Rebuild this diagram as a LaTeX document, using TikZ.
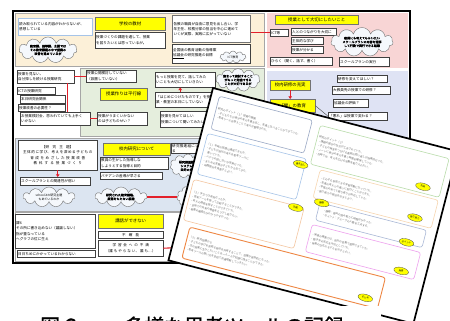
\documentclass[tikz,border=0pt]{standalone}
\usepackage{fontspec}
\newfontfamily\jp{Noto Sans CJK JP}
\newfontfamily\jpb{Noto Sans CJK JP}[FakeBold=1.5]
\XeTeXlinebreaklocale "ja"
\XeTeXlinebreakskip=0pt plus 1pt
\usetikzlibrary{shapes.symbols,shapes.geometric,arrows.meta}
\definecolor{beige}{HTML}{FCF0D8}
\definecolor{pinkbg}{HTML}{F8D5D5}
\definecolor{greenbg}{HTML}{E5EEDD}
\definecolor{bluebg}{HTML}{DCE5F1}
\definecolor{lavbg}{HTML}{DFE3F4}
\definecolor{ylw}{HTML}{FFFF00}
\definecolor{redl}{HTML}{E3202B}
\definecolor{cloudfill}{HTML}{F5F8FC}
\definecolor{bA}{HTML}{9AA8C4}
\definecolor{bB}{HTML}{A6C4E8}
\definecolor{bC}{HTML}{F4C6A0}
\definecolor{bD}{HTML}{EE8744}
\definecolor{bE}{HTML}{B9DCAA}
\definecolor{bF}{HTML}{F7D6B0}
\definecolor{bG}{HTML}{A9B8D6}
\definecolor{bH}{HTML}{EEA0EE}
\tikzset{
  wb/.style={draw=black!75, line width=0.45pt, fill=white, inner sep=1pt,
    font=\jp\fontsize{3.6}{5.2}\selectfont, align=left, anchor=north west},
  yb/.style={draw=black!55, line width=0.4pt, fill=ylw, inner sep=1pt,
    font=\jp\fontsize{4.4}{5.2}\selectfont, align=center, anchor=north west},
  cl/.style={cloud, cloud puffs=11, cloud ignores aspect, draw=black!55, line width=0.4pt, fill=cloudfill,
    inner sep=0pt, font=\jpb\fontsize{3.0}{3.8}\selectfont, align=center},
  redc/.style={draw=redl, line width=1.1pt},
  redarr/.style={draw=redl, line width=1.1pt, -{Triangle[length=2.6pt,width=3.4pt]}},
  fsbox/.style={rounded corners=2.5pt, line width=0.6pt, fill=white, inner sep=1.6pt,
    font=\jp\fontsize{2.6}{4.3}\selectfont, text=black!60, align=left, anchor=north west},
  ell/.style={ellipse, draw=black!70, line width=0.3pt, fill=ylw, inner sep=0.3pt,
    minimum width=15pt, minimum height=7pt, font=\jp\fontsize{2.4}{3}\selectfont},
  capt/.style={font=\jpb\fontsize{20}{20}\selectfont, inner sep=0pt, anchor=base west}
}
\begin{document}
\begin{tikzpicture}[x=1pt,y=-1pt]
\useasboundingbox (0,0) rectangle (450,321);
\fill[white] (0,0) rectangle (450,321);
% ---------- back sheet ----------
\draw[line width=1.2pt, fill=white] (13,11) rectangle (410,263);
\fill[beige] (15,13) rectangle (264,66);
\fill[pinkbg] (267,13) rectangle (408,68);
\fill[greenbg] (80,68) rectangle (264,136);
\fill[lavbg] (267,71) rectangle (408,150);
\fill[bluebg] (15,138) rectangle (232,211);
\draw[black!35, line width=0.4pt] (15,13) rectangle (264,66);
\draw[black!35, line width=0.4pt] (80,68) rectangle (264,136);
\draw[black!35, line width=0.4pt] (15,138) rectangle (232,211);
\draw[black!35, line width=0.4pt] (15,212) rectangle (232,261);

% beige region
\node[wb, draw=bB, minimum width=74pt, minimum height=17pt, text width=72pt] (b1) at (18,18) {読み取られている内容がわからないが、\\感想している};
\node[yb, minimum width=70pt, minimum height=13pt] (y1) at (95,17) {学校の教材};
\node[wb, minimum width=70pt, minimum height=16pt, text width=68pt] (b2) at (95,32) {授業づくりの課題を通して、授業\\を図りたいとは思っているが。};
\node[cl, minimum width=58pt, minimum height=26pt] (c1) at (48,50) {教育課、指導課、主要では\\その教育課題の中で授業の\\改善を進めているが};
\node[wb, draw=black!55, line width=1pt, minimum width=78pt, minimum height=27pt, text width=76pt] (b3) at (172,15) {各教の職員が自由に意見を出し合い、学\\年主任、校務分掌の担当を中心に進めて\\いくが実際、実践に広がっていない};
\node[wb, minimum width=78pt, minimum height=19pt, text width=76pt] (b4) at (172,44) {全国版の教育活動の指導案\\\underline{協議会}の研究推進の目標};
\node[cl, font=\jp\fontsize{3.0}{4}\selectfont, minimum width=26pt, minimum height=12pt] (c2) at (233,57) {ICT教育};

% pink region
\node[yb, minimum width=83pt, minimum height=9pt] (yP) at (275,15) {授業として大切にしたいこと};
\node[wb, minimum width=18pt, minimum height=7pt, text width=16pt] (p1) at (270,29) {ICT等};
\node[wb, minimum width=45pt, minimum height=7pt, text width=43pt] (p2) at (291,28) {人とのつながりを大切に};
\node[wb, minimum width=32pt, minimum height=7pt, text width=30pt] (p3) at (291,37) {主体的な学び};
\node[wb, minimum width=32pt, minimum height=7pt, text width=30pt] (p4) at (291,46) {授業が分かる};
\node[wb, minimum width=62pt, minimum height=8pt, text width=60pt] (p5) at (270,57) {ひらく（聞く、話す、書く）};
\node[cl, minimum width=62pt, minimum height=29pt] (c3) at (362,42) {教師にも考えてもらいたい\\スクールプランの内容を理解\\して行動で実行できる組織};
\node[wb, minimum width=50pt, minimum height=9pt, text width=48pt] (p6) at (339,57) {スクールプランの実行};
\draw[redc] (p1.west -| b3.east) -- (p1.west);

% middle region
\node[wb, minimum width=57pt, minimum height=13pt, text width=55pt] (m1) at (17,70) {授業を見ない、\\自分探しを続ける授業研究};
\node[wb, minimum width=50pt, minimum height=12pt, text width=48pt] (m2) at (86,70) {授業公開検討していない\\（設置していない）};
\draw[redc] (m1.east) -- (m1.east -| m2.west);
\node[wb, minimum width=38pt, minimum height=7pt, text width=36pt] (m3) at (17,87) {ICTの授業研究};
\node[wb, minimum width=45pt, minimum height=7pt, text width=43pt] (m4) at (20,95.5) {本日研究会関係};
\node[wb, minimum width=47pt, minimum height=7pt, text width=45pt] (m5) at (18,104) {授業改善の必要性？};
\node[wb, minimum width=70pt, minimum height=13pt, text width=68pt] (m6) at (20,112) {お授業検討会、思われていても上手く\\いかない};
\node[wb, minimum width=50pt, minimum height=13pt, text width=48pt] (m7) at (97,112) {授業がうまくいかない\\のは子どものせい？};
\draw[redc] ([xshift=-7pt]m1.south east) -- ([xshift=-7pt]m1.south east |- m6.north);
\draw[redc] (m6.east) -- (m6.east -| m7.west);
\node[yb, minimum width=47pt, minimum height=12pt] (y2) at (100,88) {授業作りは平行線};
\node[wb, minimum width=60pt, minimum height=15pt, text width=58pt] (m8) at (155,72) {もっと授業を見て、話してみた\\いことも大切にしていきたい};
\node[cl, minimum width=44pt, minimum height=21pt] (c4) at (238,80) {集まって検討すること\\がもっと勉強できる\\ことが大切であるが};
\node[wb, minimum width=60pt, minimum height=15pt, text width=58pt] (m9) at (155,92) {「はじめにつけたものです」を授\\業・教室の本日にしていない};
\draw[redarr] ([xshift=-5pt]m9.north) -- ([xshift=-5pt]m8.south);
\node[wb, minimum width=52pt, minimum height=16pt, text width=50pt] (m10) at (160,111) {授業を見せてほしい\\授業について聞いてみたい};

% lavender region
\node[yb, minimum width=40pt, minimum height=10pt] (y3) at (270,80) {校内研修の充実};
\node[yb, minimum width=45pt, minimum height=13pt] (y4) at (270,99) {「聞」の教育};
\draw[redarr] (y3.south) -- (y3.south |- y4.north);
\node[wb, minimum width=50pt, minimum height=7pt, text width=48pt] (r1) at (337,75) {研修を変えてほしい？};
\node[wb, minimum width=58pt, minimum height=8pt, text width=56pt] (r2) at (332,86) {大教員免の授業での研修？};
\node[wb, minimum width=35pt, minimum height=8pt, text width=33pt] (r3) at (333,99) {協議会の評価？};
\node[wb, minimum width=59pt, minimum height=8pt, text width=57pt] (r4) at (328,112) {「悪れ」は授業で変わる？};
\draw[black!70, line width=0.4pt] (y4.east) -- (r4.west);

% blue region
\node[yb, minimum width=67pt, minimum height=12pt] (y5) at (103,143) {校内研究について};
\node[wb, minimum width=38pt, minimum height=7pt, text width=36pt] (k1) at (171,143) {研究推進組にしている};
\node[wb, align=center, minimum width=79pt, minimum height=30pt, text width=77pt] (k2) at (18,140) {【研究主題】\\主体的に学び、考えを深める子どもの\\育成をめざした授業改善\\教科する授業づくり};
\node[wb, minimum width=70pt, minimum height=8pt, text width=68pt] (k3) at (20,177) {スクールプランとの関連性が弱い};
\draw[redarr] (k2.south) -- (k2.south |- k3.north);
\node[wb, minimum width=68pt, minimum height=12pt, text width=66pt] (k4) at (100,157) {教員の生かした指導しな\\しようとする指導と目的};
\node[wb, minimum width=62pt, minimum height=7pt, text width=60pt] (k5) at (100,172) {パテアンの差導が早さる};
\node[cl, font=\jp\fontsize{3.0}{3.8}\selectfont, minimum width=52pt, minimum height=20pt] (c5) at (49,197) {school-Xの研究主題\\もあているのか};
\node[cl, minimum width=52pt, minimum height=20pt] (c6) at (121,197) {研究された教育課程、\\疑問をもたない組織};
\node[cl, minimum width=36pt, minimum height=24pt] (c7) at (188,166) {研究推進組の\\システムが\\目的の共有};
\node[cl, minimum width=34pt, minimum height=24pt] (c8) at (194,197) {学習の\\記録と共有};
\draw[redc] (c6.east) -- (c6.east -| c8.west);

% bottom region
\node[wb, minimum width=80pt, minimum height=34pt, text width=78pt] (bb1) at (15,214) {課6\\その所に書き込めない（議論しない）\\指が重なっている\\ヘグラフの位に生え};
\node[wb, minimum width=78pt, minimum height=7pt, text width=76pt] (bb2) at (17,250) {日日ちめにかかっているわからない};
\node[yb, minimum width=65pt, minimum height=14pt] (y6) at (98,214) {講話ができない};
\node[wb, align=center, minimum width=65pt, minimum height=7pt, text width=63pt] (bb3) at (98,231) {不確能};
\node[wb, align=center, minimum width=65pt, minimum height=16pt, text width=63pt] (bb4) at (98,240) {学習会への不満\\（誰もやらない、誰も…）};
\coordinate (bbend) at (190,247);
\draw[redc] (bb4.east) -- (bbend);

% ---------- front sheet ----------
\begin{scope}[shift={(213,88)}, rotate=-14.5, transform shape]
\draw[line width=1.7pt, fill=white] (0,0) rectangle (253,178);
\node[fsbox, draw=bA, minimum width=96pt, minimum height=34pt, text width=92pt] (fA) at (8,6) {研究のポイント（１）授業の展開\\・子どもたちが自分の考えを書き出し、友達と比べることができていた。\\・思考ツールを使うことで考えが整理された。};
\node[fsbox, draw=bB, minimum width=102pt, minimum height=42pt, text width=98pt] (fB) at (6,45) {（１）本時の目標は達成できたか。\\・子どもが自分の考えを思考ツールに\\　書いていた。\\・ペアでの話し合いが活発だった。\\・まとめの言葉が子どもから出てきた。\\・時間配分を見直すとよい。};
\node[fsbox, draw=bC, minimum width=114pt, minimum height=42pt, text width=110pt] (fC) at (4,93) {（２）手立ては有効だったか。\\・思考ツールを使って比較することができた。\\・考えの根拠を話すことができていた。\\・全体での共有の場面をもう少し取りたい。\\・板書の構造化がわかりやすかった。};
\node[fsbox, draw=bD, line width=0.9pt, minimum width=202pt, minimum height=32pt, text width=198pt] (fD) at (12,140) {（３）研究協議から\\・子どもの学びを見取る視点を共有することで、協議が具体的になった。\\・次の授業に生かしたいことを一人一人が記録に残すことができた。\\・思考ツールの使い方を全校で共通理解していきたい。};
\node[fsbox, draw=bE, minimum width=133pt, minimum height=40pt, text width=129pt] (fE) at (113,9) {研究のポイント（２）\\・課題の提示の仕方が工夫されていた。\\・子どもの発言をつなげる教師の問い返しが効果的だった。\\・ノートに自分の考えを書く時間を確保していた。\\・次時では、考えを広げる活動を取り入れたい。};
\node[fsbox, draw=bF, minimum width=122pt, minimum height=29pt, text width=118pt] (fF) at (124,52) {・どの子も参加できる学習活動になっていた。\\・友達の考えとの違いに気付くことができた。\\・学習のめあてと振り返りが対応していた。\\・振り返りの視点を示すとよい。};
\node[fsbox, draw=bG, minimum width=110pt, minimum height=18pt, text width=100pt] (fG) at (132,84) {・課題：資料の読み取りに時間がかかった。\\・ポイント：グループの人数を工夫する。};
\node[fsbox, draw=bH, minimum width=112pt, minimum height=28pt, text width=108pt] (fH) at (130,107) {・発表の場面では、自分の言葉で説明できていた。\\・聞き手の反応を大切にしていた。\\・発表の仕方のモデルを示すとよい。};
\node[ell] (eB) at (104,52) {書き出し};
\node[ell] (eC) at (110,95) {比較};
\node[ell] (eD) at (200,165) {まとめ};
\node[ell] (eE) at (228,43) {次時};
\node[ell] (eF) at (228,75) {振り返り};
\node[ell] (eG1) at (134,84) {課題};
\node[ell] (eG2) at (226,101) {ポイント};
\node[ell] (eH) at (228,130) {発表};
\end{scope}

% ---------- caption ----------
\fill[white] (110,306) rectangle (381,330);
\node[capt] (cap1) at (40,333.5) {図６};
\node[capt] (cap2) at (124,333.5) {多様な思考ツールの記録};
\end{tikzpicture}
\end{document}
